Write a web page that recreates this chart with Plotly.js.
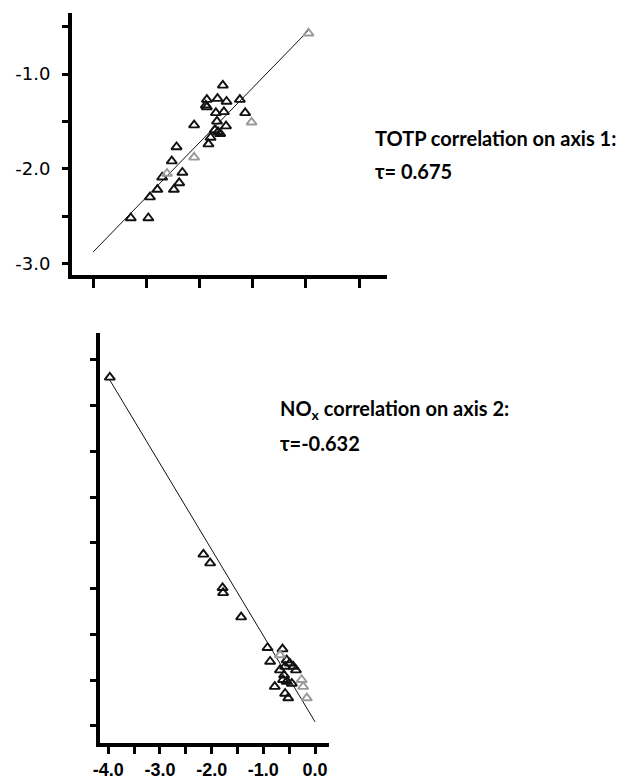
<!DOCTYPE html>
<html>
<head>
<meta charset="utf-8">
<script src="https://cdn.plot.ly/plotly-3.0.1.min.js"></script>
<style>html,body{margin:0;padding:0;background:#fff;}#chart{width:636px;height:781px;}</style>
</head>
<body>
<div id="chart"></div>
<script>
// ---- Top panel: TOTP vs axis 1 ----
const topX = [2.44, 2.14, 2.12, 2.14, 2.34, 2.51, 2.76, 2.46, 2.31, 2.86, 1.90, 2.33, 2.50, 2.29, 2.35, 2.39, 2.21, 2.17, 1.57, 1.48, 1.68, 1.30, 1.62, 1.52, 1.21, 1.07, 0.71, 1.04];
const topY = [-1.12, -1.27, -1.33, -1.35, -1.26, -1.29, -1.27, -1.40, -1.41, -1.41, -1.54, -1.50, -1.55, -1.59, -1.61, -1.63, -1.67, -1.74, -1.77, -1.92, -2.04, -2.09, -2.15, -2.22, -2.22, -2.30, -2.52, -2.52];
const topFaintX = [4.05, 2.98, 1.90, 1.39];
const topFaintY = [-0.57, -1.51, -1.88, -2.05];
const topLineX = [0.0, 4.05];
const topLineY = [-2.88, -0.54];
const topXTicks = [0, 1, 2, 3, 4, 5];
const topYTicks = [-0.5, -1.0, -1.5, -2.0, -2.5, -3.0];
const topYLabels = ["", "-1.0", "", "-2.0", "", "-3.0"];

// ---- Bottom panel: NOx vs axis 2 ----
const botX = [-3.97, -2.16, -2.03, -1.79, -1.78, -1.43, -0.92, -0.87, -0.63, -0.55, -0.49, -0.42, -0.37, -0.60, -0.62, -0.55, -0.45, -0.78, -0.58, -0.52, -0.68, -0.58];
const botY = [7.62, 3.75, 3.56, 3.02, 2.91, 2.38, 1.71, 1.41, 1.68, 1.44, 1.37, 1.30, 1.22, 1.11, 1.01, 0.97, 0.93, 0.86, 0.71, 0.61, 1.22, 1.30];
const botFaintX = [-0.68, -0.26, -0.23, -0.16];
const botFaintY = [1.55, 1.01, 0.86, 0.61];
const botLineX = [-3.97, 0.0];
const botLineY = [7.56, 0.09];
const botXTicks = [-4, -3.5, -3, -2.5, -2, -1.5, -1, -0.5, 0];
const botXLabels = ["-4.0", "", "-3.0", "", "-2.0", "", "-1.0", "", "0.0"];
const botYTicks = [0, 1, 2, 3, 4, 5, 6, 7, 8];

const annTop1 = "TOTP correlation on axis 1:";
const annTop2 = "τ= 0.675";
const annBot1 = "NO<sub>x</sub> correlation on axis 2:";
const annBot2 = "τ=-0.632";

const W = 636, H = 781;
const px = v => v / W;
const py = v => 1 - v / H;

const mk = (c) => ({symbol: 'triangle-up-open', size: 9, color: c, line: {width: 1.9, color: c}});

const traces = [
  {x: topLineX, y: topLineY, mode: 'lines', line: {color: '#111', width: 1}, xaxis: 'x', yaxis: 'y', hoverinfo: 'skip'},
  {x: topX, y: topY, mode: 'markers', marker: mk('#111'), xaxis: 'x', yaxis: 'y'},
  {x: topFaintX, y: topFaintY, mode: 'markers', marker: mk('#9a9a9a'), xaxis: 'x', yaxis: 'y'},
  {x: botLineX, y: botLineY, mode: 'lines', line: {color: '#111', width: 1}, xaxis: 'x2', yaxis: 'y2', hoverinfo: 'skip'},
  {x: botX, y: botY, mode: 'markers', marker: mk('#111'), xaxis: 'x2', yaxis: 'y2'},
  {x: botFaintX, y: botFaintY, mode: 'markers', marker: mk('#9a9a9a'), xaxis: 'x2', yaxis: 'y2'}
];

const axBase = {showline: true, linecolor: '#000', linewidth: 4, showgrid: false, zeroline: false,
  ticks: 'outside', tickcolor: '#000', tickwidth: 3, fixedrange: true};

const annFont = {family: 'Lato', size: 20, color: '#000', weight: 'bold'};

const layout = {
  width: W, height: H, autosize: false,
  margin: {l: 0, r: 0, t: 0, b: 0, pad: 0},
  paper_bgcolor: '#fff', plot_bgcolor: '#fff',
  showlegend: false,
  xaxis: Object.assign({}, axBase, {domain: [px(72), px(387)], range: [-0.395, 5.526], anchor: 'y',
    tickmode: 'array', tickvals: topXTicks, showticklabels: false, ticklen: 9}),
  yaxis: Object.assign({}, axBase, {domain: [py(275), py(13)], range: [-3.122, -0.356], anchor: 'x',
    tickmode: 'array', tickvals: topYTicks, ticktext: topYLabels, ticklen: 6, ticklabelstandoff: 8,
    tickfont: {family: 'DejaVu Sans', size: 18, color: '#000'}}),
  xaxis2: Object.assign({}, axBase, {domain: [px(99.5), px(329.3)], range: [-4.170, 0.275], anchor: 'y2',
    tickmode: 'array', tickvals: botXTicks, ticktext: botXLabels, ticklen: 7,
    tickfont: {family: 'Liberation Sans', size: 18, color: '#000', weight: 'bold'}}),
  yaxis2: Object.assign({}, axBase, {domain: [py(743), py(333)], range: [-0.372, 8.59], anchor: 'x2',
    tickmode: 'array', tickvals: botYTicks, showticklabels: false, ticklen: 6}),
  annotations: [
    {xref: 'paper', yref: 'paper', x: px(373), y: py(138), xanchor: 'left', yanchor: 'middle', showarrow: false,
     text: annTop1, font: annFont},
    {xref: 'paper', yref: 'paper', x: px(373), y: py(171), xanchor: 'left', yanchor: 'middle', showarrow: false,
     text: annTop2, font: annFont},
    {xref: 'paper', yref: 'paper', x: px(278), y: py(410), xanchor: 'left', yanchor: 'middle', showarrow: false,
     text: annBot1, font: annFont},
    {xref: 'paper', yref: 'paper', x: px(278), y: py(443), xanchor: 'left', yanchor: 'middle', showarrow: false,
     text: annBot2, font: annFont}
  ]
};

Plotly.newPlot('chart', traces, layout, {staticPlot: true, displayModeBar: false});
</script>
</body>
</html>
